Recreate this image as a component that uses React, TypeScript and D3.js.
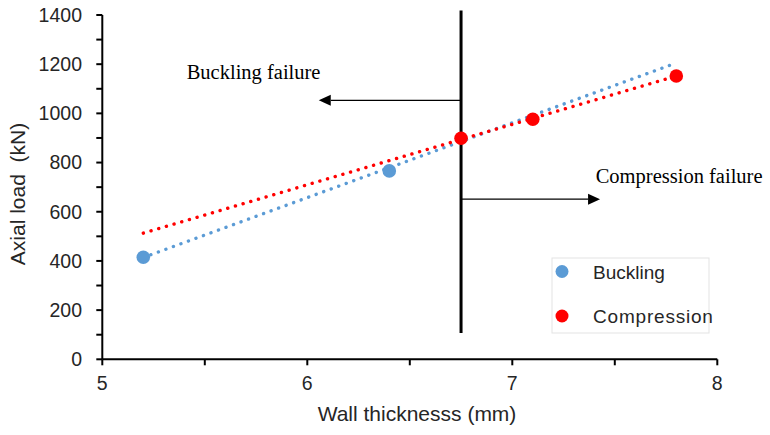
import React from "react";
import * as d3 from "d3";

const bucklingX = [5.2, 6.4];
const bucklingY = [415, 766];
const compressionX = [6.75, 7.1, 7.8];
const compressionY = [899, 976, 1152];
const trendX = [5.2, 7.8];
const bucklingTrendY = [414, 1205];
const compressionTrendY = [513, 1152];
const xTicks = [5, 6, 7, 8];
const xMinorTicks = [5.5, 6.5, 7.5];
const yTicks = [0, 200, 400, 600, 800, 1000, 1200, 1400];
const yMinorTicks = [100, 300, 500, 700, 900, 1100, 1300];
const dividerX = 6.75;
const dividerRange = [107, 1418];
const bucklingArrow = { y: 1053, toX: 6.056, label: "Buckling failure" };
const compressionArrow = { y: 651, toX: 7.428, label: "Compression failure" };
const seriesNames = ["Buckling", "Compression"];

const BLUE = "#5B9BD5";
const RED = "#FF0000";
const SANS = "'Liberation Sans', Arial, sans-serif";
const SERIF = "'Liberation Serif', 'Times New Roman', serif";

export default function App() {
  const x = d3.scaleLinear().domain([5, 8]).range([102.3, 717.3]);
  const y = d3.scaleLinear().domain([0, 1400]).range([359.3, 15]);
  const line = d3
    .line<[number, number]>()
    .x((d) => x(d[0]))
    .y((d) => y(d[1]));

  const arrow = (a: { y: number; toX: number }) => {
    const x0 = x(dividerX);
    const x1 = x(a.toX);
    const yy = y(a.y);
    const dir = x1 < x0 ? -1 : 1;
    const base = x1 - dir * 12;
    return (
      <g>
        <line x1={x0} x2={base} y1={yy} y2={yy} stroke="#000" strokeWidth={1.2} />
        <path d={`M${x1},${yy} L${base},${yy - 5.5} L${base},${yy + 5.5} Z`} fill="#000" />
      </g>
    );
  };

  return (
    <svg
      width={770}
      height={435}
      style={{ position: "absolute", left: 0, top: 0, background: "#fff" }}
    >
      {/* trendlines */}
      <path
        d={line(trendX.map((v, i) => [v, bucklingTrendY[i]]) as [number, number][]) || ""}
        fill="none"
        stroke={BLUE}
        strokeWidth={3.4}
        strokeLinecap="round"
        strokeDasharray="0.1 7.9"
      />
      <path
        d={line(trendX.map((v, i) => [v, compressionTrendY[i]]) as [number, number][]) || ""}
        fill="none"
        stroke={RED}
        strokeWidth={3.4}
        strokeLinecap="round"
        strokeDasharray="0.1 7.9"
      />

      {/* divider */}
      <line
        x1={x(dividerX)}
        x2={x(dividerX)}
        y1={y(dividerRange[0])}
        y2={y(dividerRange[1])}
        stroke="#000"
        strokeWidth={3}
      />
      {arrow(bucklingArrow)}
      {arrow(compressionArrow)}
      <text x={186.7} y={79.3} fontFamily={SERIF} fontSize={20.5} fill="#000">
        {bucklingArrow.label}
      </text>
      <text x={595.7} y={183.3} fontFamily={SERIF} fontSize={20.5} fill="#000">
        {compressionArrow.label}
      </text>

      {/* markers */}
      {bucklingX.map((v, i) => (
        <circle key={"b" + i} cx={x(v)} cy={y(bucklingY[i])} r={6.8} fill={BLUE} />
      ))}
      {compressionX.map((v, i) => (
        <circle key={"c" + i} cx={x(v)} cy={y(compressionY[i])} r={6.8} fill={RED} />
      ))}

      {/* axes */}
      <g stroke="#000" strokeWidth={2}>
        <line x1={x(5)} x2={x(5)} y1={y(0)} y2={y(1400)} />
        <line x1={x(5)} x2={x(8)} y1={y(0)} y2={y(0)} />
        {[...yTicks, ...yMinorTicks].map((t) => (
          <line key={"yt" + t} x1={x(5) - 6} x2={x(5)} y1={y(t)} y2={y(t)} />
        ))}
        {[...xTicks, ...xMinorTicks].map((t) => (
          <line key={"xt" + t} x1={x(t)} x2={x(t)} y1={y(0)} y2={y(0) + 6} />
        ))}
      </g>
      {yTicks.map((t) => (
        <text
          key={"yl" + t}
          x={82}
          y={y(t)}
          dy="0.35em"
          textAnchor="end"
          fontFamily={SANS}
          fontSize={19.5}
          fill="#262626"
        >
          {t}
        </text>
      ))}
      {xTicks.map((t) => (
        <text
          key={"xl" + t}
          x={x(t)}
          y={390}
          textAnchor="middle"
          fontFamily={SANS}
          fontSize={19.5}
          fill="#262626"
        >
          {t}
        </text>
      ))}
      <text
        x={417}
        y={421}
        textAnchor="middle"
        fontFamily={SANS}
        fontSize={21}
        fill="#262626"
      >
        Wall thicknesss (mm)
      </text>
      <text
        transform={`translate(25,194) rotate(-90)`}
        textAnchor="middle"
        fontFamily={SANS}
        fontSize={21}
        fill="#262626"
        style={{ whiteSpace: "pre" }}
      >
        {"Axial load  (kN)"}
      </text>

      {/* legend */}
      <rect x={552} y={258} width={157} height={75} fill="none" stroke="#e3e3e3" strokeWidth={1} />
      <circle cx={562} cy={271.5} r={6.5} fill={BLUE} />
      <circle cx={562} cy={316} r={6.5} fill={RED} />
      <text x={593} y={279.3} fontFamily={SANS} fontSize={19} fill="#262626">
        {seriesNames[0]}
      </text>
      <text x={593} y={323} fontFamily={SANS} fontSize={19} fill="#262626" letterSpacing={0.8}>
        {seriesNames[1]}
      </text>
    </svg>
  );
}
